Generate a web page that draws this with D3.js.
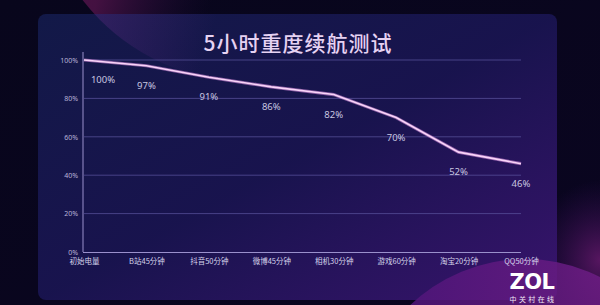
<!DOCTYPE html>
<html><head><meta charset="utf-8">
<script src="https://cdn.jsdelivr.net/npm/d3@7"></script>
<style>html,body{margin:0;padding:0;background:#07061a;overflow:hidden}svg{display:block}</style>
</head><body>
<script>
const categories = ["初始电量","B站45分钟","抖音50分钟","微博45分钟","相机30分钟","游戏60分钟","淘宝20分钟","QQ50分钟"];
const batteryValues = [100, 97, 91, 86, 82, 70, 52, 46];
const valueLabels = ["100%","97%","91%","86%","82%","70%","52%","46%"];
const yTicks = [0, 20, 40, 60, 80, 100];
const title = "5小时重度续航测试";

const W = 600, H = 305;
const svg = d3.select("body").append("svg").attr("width", W).attr("height", H);
const defs = svg.append("defs");

const bg = defs.append("linearGradient").attr("id","bg").attr("x1",0).attr("y1",0).attr("x2",1).attr("y2",1);
bg.append("stop").attr("offset",0).attr("stop-color","#08061c");
bg.append("stop").attr("offset",1).attr("stop-color","#0a0520");

const panel = defs.append("linearGradient").attr("id","panel").attr("x1",0).attr("y1",0).attr("x2",1).attr("y2",1);
panel.append("stop").attr("offset",0).attr("stop-color","#131a4a");
panel.append("stop").attr("offset",0.5).attr("stop-color","#191450");
panel.append("stop").attr("offset",1).attr("stop-color","#3a1470");

const redC = defs.append("linearGradient").attr("id","redC").attr("x1",0).attr("y1",0).attr("x2",1).attr("y2",0.3);
redC.append("stop").attr("offset",0).attr("stop-color","#5a1448").attr("stop-opacity",1);
redC.append("stop").attr("offset",0.35).attr("stop-color","#4a1245").attr("stop-opacity",0.9);
redC.append("stop").attr("offset",0.6).attr("stop-color","#200c38").attr("stop-opacity",0);

const redIn = defs.append("linearGradient").attr("id","redIn").attr("x1",0).attr("y1",0).attr("x2",1).attr("y2",0.3);
redIn.append("stop").attr("offset",0).attr("stop-color","#6a3090").attr("stop-opacity",0.55);
redIn.append("stop").attr("offset",0.35).attr("stop-color","#5a2a80").attr("stop-opacity",0.4);
redIn.append("stop").attr("offset",0.62).attr("stop-color","#5a2a80").attr("stop-opacity",0);

const glowR = defs.append("radialGradient").attr("id","glowR").attr("cx",0.5).attr("cy",0.5).attr("r",0.5);
glowR.append("stop").attr("offset",0).attr("stop-color","#6a1a70").attr("stop-opacity",0.8);
glowR.append("stop").attr("offset",1).attr("stop-color","#3a1060").attr("stop-opacity",0);

const arcG = defs.append("linearGradient").attr("id","arcG").attr("x1",0).attr("y1",0).attr("x2",1).attr("y2",0);
arcG.append("stop").attr("offset",0).attr("stop-color","#4a1478");
arcG.append("stop").attr("offset",1).attr("stop-color","#7a2088");

svg.append("rect").attr("width",W).attr("height",H).attr("fill","url(#bg)");
svg.append("circle").attr("cx",250).attr("cy",-130).attr("r",212).attr("fill","url(#redC)");
svg.append("ellipse").attr("cx",600).attr("cy",260).attr("rx",70).attr("ry",80).attr("fill","url(#glowR)");

// panel
svg.append("rect").attr("x",38).attr("y",14).attr("width",519).attr("height",286).attr("rx",8)
  .attr("fill","url(#panel)").attr("opacity",0.95);
svg.append("clipPath").attr("id","pclip").append("rect").attr("x",38).attr("y",14).attr("width",519).attr("height",286).attr("rx",8);
svg.append("circle").attr("cx",250).attr("cy",-130).attr("r",212).attr("fill","url(#redIn)").attr("clip-path","url(#pclip)");
// bottom arc
svg.append("circle").attr("cx",525).attr("cy",425).attr("r",166).attr("fill","url(#arcG)").attr("opacity",0.85);

// title
svg.append("text").attr("x",298).attr("y",51).attr("text-anchor","middle")
  .attr("font-family","'Noto Sans CJK SC', sans-serif").attr("font-size",21).attr("font-weight",500).attr("fill","#e6d2f2")
  .attr("letter-spacing",1).text(title);

// scales
const x = d3.scalePoint().domain(categories).range([84, 521]).padding(0);
const y = d3.scaleLinear().domain([0, 100]).range([252, 60]);

// grid
svg.append("g").selectAll("line.grid").data(yTicks.filter(d=>d>0)).join("line").attr("class","grid")
  .attr("x1",84).attr("x2",521).attr("y1",d=>y(d)).attr("y2",d=>y(d))
  .attr("stroke","#5c56a0").attr("stroke-opacity",0.7).attr("stroke-width",1);

// y axis
const yAxis = d3.axisLeft(y).tickValues(yTicks).tickFormat(d=>d+"%").tickSize(0).tickPadding(5);
const ya = svg.append("g").attr("transform","translate(83,0)").call(yAxis);
ya.select(".domain").remove();
ya.selectAll("text").attr("font-family","'Noto Sans', sans-serif").attr("font-size",7).attr("fill","#b8b4d8");
svg.append("line").attr("x1",83).attr("x2",83).attr("y1",52).attr("y2",252).attr("stroke","#9a90cc").attr("stroke-width",1);

// x axis
const xAxis = d3.axisBottom(x).tickSize(0).tickPadding(7);
const xa = svg.append("g").attr("transform","translate(0,252)").call(xAxis);
xa.select(".domain").attr("d","M83,0.5H521").attr("stroke","#9a90cc").attr("stroke-width",1);
xa.selectAll("text").attr("font-family","'Noto Sans CJK SC', sans-serif").attr("font-size",7.5).attr("fill","#d4d2ea");

// line
const data = categories.map((c,i)=>({c, v: batteryValues[i], l: valueLabels[i]}));
const line = d3.line().x(d=>x(d.c)).y(d=>y(d.v));
svg.append("path").datum(data).attr("d",line).attr("fill","none")
  .attr("stroke","#d890e0").attr("stroke-width",3.2).attr("stroke-opacity",0.6);
svg.append("path").datum(data).attr("d",line).attr("fill","none")
  .attr("stroke","#f8d4f8").attr("stroke-width",1.6);

// value labels
svg.selectAll("text.val").data(data).join("text").attr("class","val")
  .attr("x",(d,i)=> x(d.c) + (i===0 ? 19 : 0))
  .attr("y",d=> y(d.v) + 23)
  .attr("text-anchor","middle")
  .attr("font-family","'Noto Sans', sans-serif").attr("font-size",9.5).attr("fill","#c8c6e0")
  .text(d=>d.l);

// ZOL logo
svg.append("text").attr("x",532).attr("y",289).attr("text-anchor","middle")
  .attr("font-family","'DejaVu Sans', sans-serif").attr("font-weight","bold").attr("font-size",21)
  .attr("fill","#ffffff").attr("letter-spacing",-0.5).text("ZOL");
svg.append("text").attr("x",533).attr("y",302).attr("text-anchor","middle")
  .attr("font-family","'Noto Sans CJK SC', sans-serif").attr("font-size",7)
  .attr("fill","#f0e8f6").attr("letter-spacing",2.4).text("中关村在线");
</script>
</body></html>
